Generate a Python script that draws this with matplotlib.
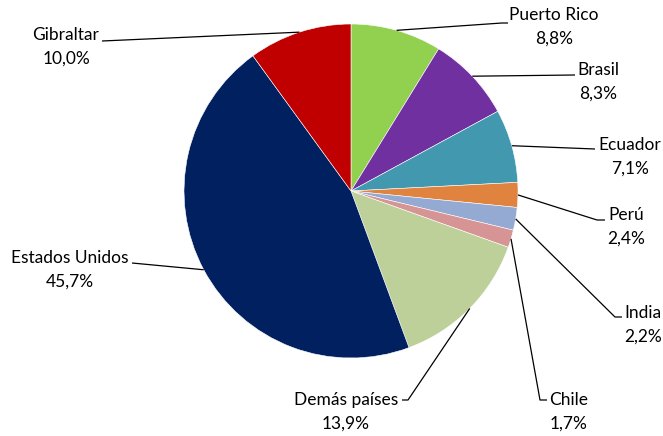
import matplotlib.pyplot as plt
import numpy as np

plt.rcParams['font.family'] = ['Lato', 'DejaVu Sans']

countries = ['Puerto Rico', 'Brasil', 'Ecuador', 'Perú', 'India', 'Chile',
             'Demás países', 'Estados Unidos', 'Gibraltar']
shares = [8.8, 8.3, 7.1, 2.4, 2.2, 1.7, 13.9, 45.7, 10.0]
colors = ['#92D050', '#7030A0', '#4198AF', '#DF833E', '#95AAD2', '#D69594',
          '#BED09A', '#00205F', '#C00000']

# label layout in pixels (y down): name centre, leader elbow, leader end
label_pos = [(554, 15), (598, 70), (630, 145), (626, 215), (643, 313),
             (569, 400), (346, 400), (70, 258), (66, 35)]
elbows = [(502, 23), (575, 75), (595, 149), (597, 220), (615, 317),
          (540, 400), (408, 400), (132, 263), (102, 41)]
ends = [(508, 23), (575, 75), (595, 149), (605, 220), (622, 317),
        (547, 400), (402, 400), (132, 263), (102, 41)]

W, H = 663, 436
cx, cy, r = 351, 191, 167

fig = plt.figure(figsize=(W / 100, H / 100), dpi=100)
ax = fig.add_axes([0, 0, 1, 1])
wedges, _ = ax.pie(shares, colors=colors, startangle=-90, counterclock=True,
                   center=(cx, cy), radius=r,
                   wedgeprops=dict(edgecolor='white', linewidth=0.4))
ax.set_xlim(0, W)
ax.set_ylim(H, 0)
ax.axis('off')

for w, name, val, (tx, ty), el, en in zip(wedges, countries, shares,
                                          label_pos, elbows, ends):
    mid = np.deg2rad((w.theta1 + w.theta2) / 2)
    sx, sy = cx + r * np.cos(mid), cy + r * np.sin(mid)
    ax.plot([sx, el[0], en[0]], [sy, el[1], en[1]], color='black', lw=0.9,
            solid_capstyle='butt')
    pct = f'{val:.1f}%'.replace('.', ',')
    ax.text(tx, ty, name, ha='center', va='center', fontsize=12.5, color='black')
    ax.text(tx, ty + 24, pct, ha='center', va='center', fontsize=12.5, color='black')

fig.savefig('out.png', dpi=100)
